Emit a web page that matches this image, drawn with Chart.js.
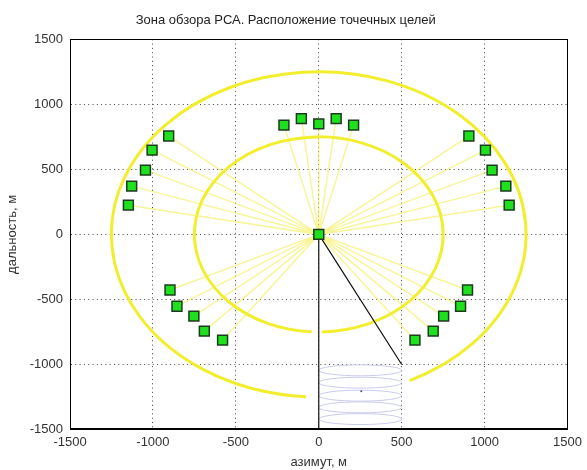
<!DOCTYPE html>
<html>
<head>
<meta charset="utf-8">
<script src="https://cdn.jsdelivr.net/npm/chart.js@4"></script>
<style>
  body { margin: 0; background: #fff; }
</style>
</head>
<body>
<canvas id="zoneChart" width="587" height="470"></canvas>
<script>
const xTicks = [-1500, -1000, -500, 0, 500, 1000, 1500];
const yTicks = [-1500, -1000, -500, 0, 500, 1000, 1500];

// точечные цели
const targetX = [-210, -105, 0, 105, 210,
                 905, 1005, 1045, 1128, 1148,
                 -905, -1005, -1045, -1128, -1148,
                 -897, -855, -753, -690, -580,
                 897, 855, 753, 690, 580];
const targetY = [840, 890, 850, 890, 840,
                 756, 648, 494, 371, 225,
                 756, 648, 494, 371, 225,
                 -428, -552, -628, -744, -813,
                 -428, -552, -628, -744, -813];

// РСА в начале координат
const radarX = 0;
const radarY = 0;

// граница сектора обзора
const beamX = [0, 0, 500];
const beamY = [-1500, 0, -1000];

// окружности (радиус, начальный и конечный угол в градусах)
const ringRadius = [1250, 750];
const ringFrom = [-64, -88.6];
const ringTo = [266.5, 266.7];

// след луча в зоне обзора
const swathX = [0, 500];
const swathLoopY = [-1045, -1140, -1240, -1330, -1420];
const swathLoopHalf = 42;
const swathDotX = [256];
const swathDotY = [-1205];

const font = { family: '"Liberation Sans", Arial, sans-serif', size: 13 };

const shapesPlugin = {
    id: 'shapes',
    beforeDatasetsDraw(chart) {
        const { ctx, chartArea, scales: { x, y } } = chart;
        ctx.save();
        ctx.beginPath();
        ctx.rect(chartArea.left, chartArea.top, chartArea.width, chartArea.height);
        ctx.clip();

        const sl = x.getPixelForValue(swathX[0]);
        const sr = x.getPixelForValue(swathX[1]);
        ctx.strokeStyle = '#c9cbee';
        ctx.lineWidth = 1;
        swathLoopY.forEach(v => {
            const py = y.getPixelForValue(v);
            const ry = Math.abs(y.getPixelForValue(v + swathLoopHalf) - py);
            ctx.beginPath();
            ctx.ellipse((sl + sr) / 2, py, (sr - sl) / 2, ry, 0, 0, Math.PI * 2);
            ctx.stroke();
        });

        const cx = x.getPixelForValue(radarX);
        const cy = y.getPixelForValue(radarY);
        ctx.strokeStyle = '#f2ee2e';
        ctx.lineWidth = 3;
        ringRadius.forEach((r, i) => {
            const rx = Math.abs(x.getPixelForValue(radarX + r) - cx);
            const ry = Math.abs(y.getPixelForValue(radarY + r) - cy);
            ctx.beginPath();
            ctx.ellipse(cx, cy, rx, ry, 0, -ringFrom[i] * Math.PI / 180, -ringTo[i] * Math.PI / 180, true);
            ctx.stroke();
        });
        ctx.restore();
    },
    afterDraw(chart) {
        const { ctx, chartArea } = chart;
        ctx.save();
        ctx.strokeStyle = '#000';
        ctx.lineWidth = 1;
        ctx.strokeRect(Math.round(chartArea.left) + 0.5, Math.round(chartArea.top) + 0.5,
            Math.round(chartArea.width) - 1, Math.round(chartArea.height) - 1);
        ctx.restore();
    }
};

document.addEventListener("DOMContentLoaded", function () {
    const targets = targetX.map((v, i) => ({ x: v, y: targetY[i] }));
    const rays = [];
    targets.forEach(t => {
        rays.push({ x: radarX, y: radarY });
        rays.push(t);
    });

    const ctx = document.getElementById('zoneChart').getContext('2d');
    new Chart(ctx, {
        type: 'scatter',
        data: {
            datasets: [
                {
                    label: 'РСА',
                    data: [{ x: radarX, y: radarY }],
                    pointStyle: 'rect',
                    pointRadius: 7,
                    backgroundColor: '#1fe01f',
                    borderColor: '#1c3a1c',
                    borderWidth: 1.5
                },
                {
                    label: 'цели',
                    data: targets,
                    pointStyle: 'rect',
                    pointRadius: 7,
                    backgroundColor: '#1fe01f',
                    borderColor: '#1c3a1c',
                    borderWidth: 1.5
                },
                {
                    label: 'сектор',
                    data: beamX.map((v, i) => ({ x: v, y: beamY[i] })),
                    showLine: true,
                    pointRadius: 0,
                    borderColor: '#111',
                    borderWidth: 1.2
                },
                {
                    label: 'точка',
                    data: swathDotX.map((v, i) => ({ x: v, y: swathDotY[i] })),
                    pointRadius: 1,
                    backgroundColor: '#555',
                    borderWidth: 0
                },
                {
                    label: 'лучи',
                    data: rays,
                    showLine: true,
                    pointRadius: 0,
                    borderColor: 'rgba(242, 236, 70, 0.55)',
                    borderWidth: 1.5
                }
            ]
        },
        options: {
            responsive: false,
            animation: false,
            layout: { padding: { top: 0, right: 15.5, bottom: 0, left: 0 } },
            scales: {
                x: {
                    type: 'linear',
                    min: -1500,
                    max: 1500,
                    afterBuildTicks: s => { s.ticks = xTicks.map(v => ({ value: v })); },
                    afterFit: s => { s.height = 40.5; },
                    grid: { color: '#444', drawTicks: false },
                    border: { display: true, color: '#000', dash: [1, 3.3] },
                    ticks: { font: font, color: '#333', padding: 5, maxRotation: 0, callback: v => String(v) },
                    title: { display: true, text: 'азимут, м', font: font, color: '#333', padding: { top: 0, bottom: 0 } }
                },
                y: {
                    type: 'linear',
                    min: -1500,
                    max: 1500,
                    afterBuildTicks: s => { s.ticks = yTicks.map(v => ({ value: v })); },
                    afterFit: s => { s.width = 70; },
                    grid: { color: '#444', drawTicks: false },
                    border: { display: true, color: '#000', dash: [1, 3.3] },
                    ticks: { font: font, color: '#333', padding: 7, callback: v => String(v) },
                    title: { display: true, text: 'дальность, м', font: font, color: '#333', padding: { top: 5, bottom: 0 } }
                }
            },
            plugins: {
                legend: { display: false },
                tooltip: { enabled: false },
                title: {
                    display: true,
                    text: 'Зона обзора РСА. Расположение точечных целей',
                    font: { family: font.family, size: 13, weight: 'normal' },
                    color: '#222',
                    padding: { top: 13, bottom: 10.7 }
                }
            }
        },
        plugins: [shapesPlugin]
    });
});
</script>
</body>
</html>
